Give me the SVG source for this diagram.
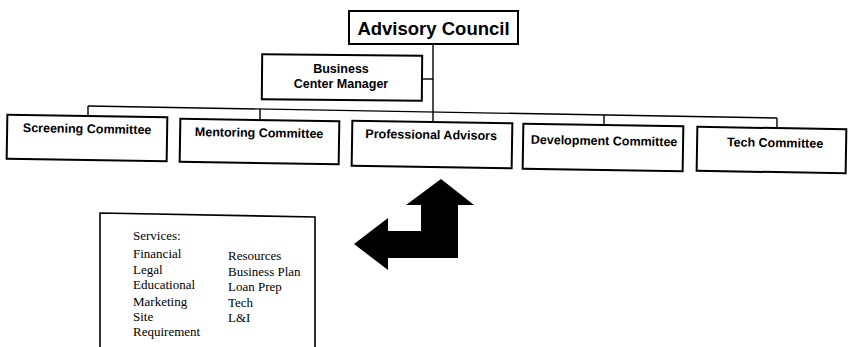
<svg xmlns="http://www.w3.org/2000/svg" width="849" height="347" viewBox="0 0 849 347">
  <style>
    .box { fill: #fff; stroke: #000; stroke-width: 2; }
    .wire { fill: none; stroke: #000; stroke-width: 1.4; }
    .lbl { font-family: "Liberation Sans", Arial, sans-serif; font-weight: bold; font-size: 12.5px; fill: #000; text-anchor: middle; }
    .big { font-size: 18.5px; }
    .svc { font-family: "Liberation Serif", "Times New Roman", serif; font-size: 13px; fill: #000; }
  </style>
  <rect width="849" height="347" fill="#fff"/>

  <!-- connectors -->
  <g id="connectors">
    <path class="wire" d="M433 44 V122"/>
    <path class="wire" d="M422 79 H433"/>
    <path class="wire" d="M88 106 L777 118"/>
    <path class="wire" d="M88 106 V117"/>
    <path class="wire" d="M260 109 V121"/>
    <path class="wire" d="M604 115 V126"/>
    <path class="wire" d="M777 118 V129"/>
  </g>

  <g id="advisory-council">
    <rect class="box" x="349" y="11" width="169" height="33"/>
    <text class="lbl big" x="433.5" y="35">Advisory Council</text>
  </g>

  <g id="business-center-manager">
    <rect class="box" x="262" y="55" width="160" height="45" transform="rotate(0.5 342 77)"/>
    <text class="lbl" x="341" y="73">Business</text>
    <text class="lbl" x="341" y="88">Center Manager</text>
  </g>

  <g id="screening-committee" transform="rotate(0.9 87 138)">
    <rect class="box" x="7" y="116" width="160" height="44"/>
    <text class="lbl" x="87" y="133">Screening Committee</text>
  </g>

  <g id="mentoring-committee" transform="rotate(0.9 259.5 141.5)">
    <rect class="box" x="180" y="120" width="159" height="43"/>
    <text class="lbl" x="259" y="137">Mentoring Committee</text>
  </g>

  <g id="professional-advisors" transform="rotate(0.9 432 144.5)">
    <rect class="box" x="352" y="122" width="160" height="45"/>
    <text class="lbl" x="431" y="139">Professional Advisors</text>
  </g>

  <g id="development-committee" transform="rotate(0.9 603 147.5)">
    <rect class="box" x="523" y="125" width="160" height="45"/>
    <text class="lbl" x="604" y="145">Development Committee</text>
  </g>

  <g id="tech-committee" transform="rotate(0.9 771.5 150)">
    <rect class="box" x="697" y="128" width="149" height="44"/>
    <text class="lbl" x="775" y="147">Tech Committee</text>
  </g>

  <!-- bent two-way arrow -->
  <g id="arrow">
    <polygon fill="#000" points="441,179 474,205 458,205 458,258 388,258 388,270 354,244 388,218 388,231 421,231 421,205 406,205"/>
  </g>

  <g id="services">
    <path fill="none" stroke="#000" stroke-width="1.6" d="M100 348 V213 L315 217 V348"/>
    <text class="svc" x="133" y="240">Services:</text>
    <text class="svc" x="133" y="258">Financial</text>
    <text class="svc" x="133" y="274">Legal</text>
    <text class="svc" x="133" y="289">Educational</text>
    <text class="svc" x="133" y="306">Marketing</text>
    <text class="svc" x="133" y="321">Site</text>
    <text class="svc" x="133" y="336">Requirement</text>
    <text class="svc" x="228" y="260">Resources</text>
    <text class="svc" x="228" y="276">Business Plan</text>
    <text class="svc" x="228" y="291">Loan Prep</text>
    <text class="svc" x="228" y="307">Tech</text>
    <text class="svc" x="228" y="322">L&amp;I</text>
  </g>
</svg>
